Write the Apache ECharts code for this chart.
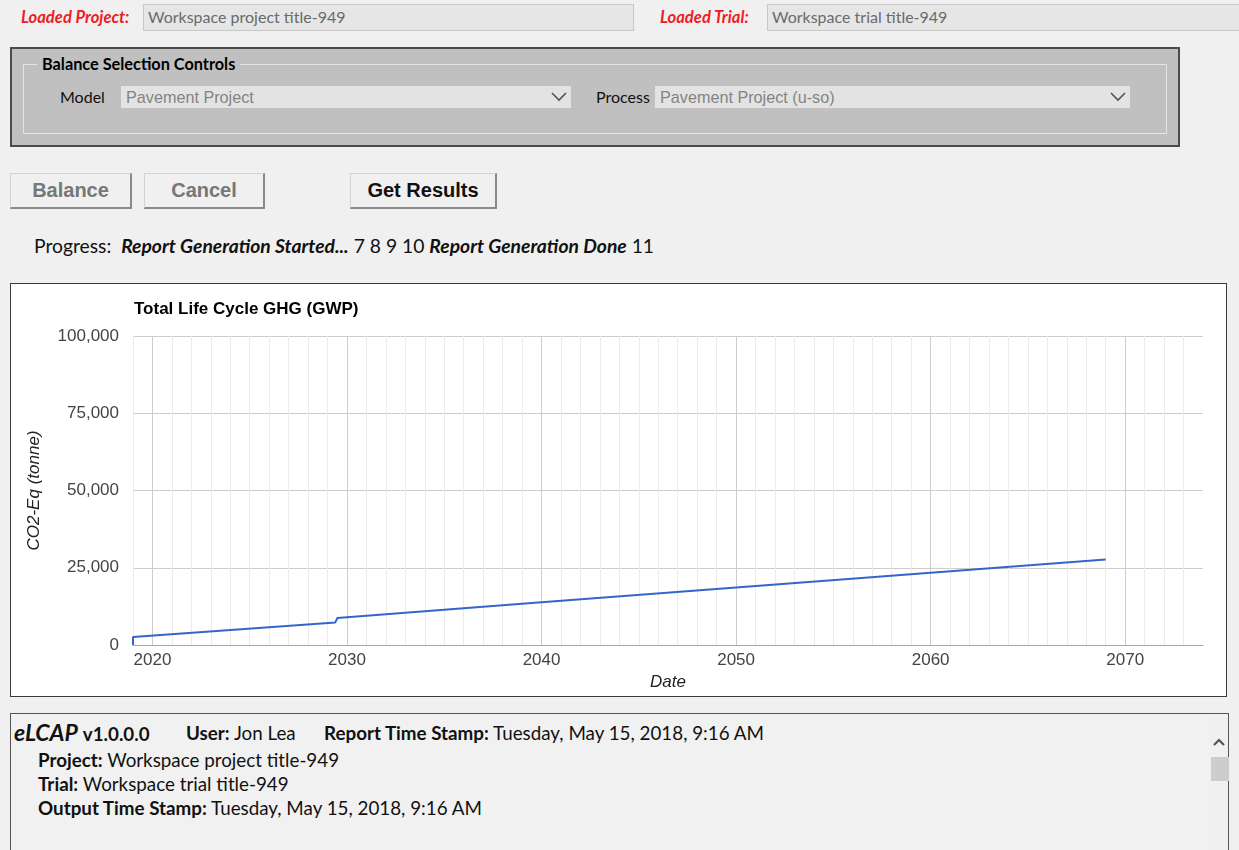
<!DOCTYPE html>
<html>
<head>
<meta charset="utf-8">
<script src="https://cdn.jsdelivr.net/npm/echarts@6/dist/echarts.min.js"></script>
<style>
html,body{margin:0;padding:0;width:1239px;height:850px;overflow:hidden;background:#f0f0f0;font-family:Lato,"Open Sans",sans-serif;color:#111;}
.a{position:absolute;white-space:nowrap;}
.red{color:#ee1c25;font-style:italic;font-weight:bold;font-size:16.6px;line-height:20px;}
.inp{background:#e6e6e6;border:1px solid #c8c8c8;color:#6a6a6a;font-size:16px;box-sizing:border-box;padding-left:4px;line-height:24px;}
.box{background:#c0c0c0;border:2px solid #4b4b4b;box-sizing:border-box;}
.fs{border:1px solid #e4e4e4;box-sizing:border-box;}
.legend{font-weight:bold;font-size:16.3px;background:#c0c0c0;padding:0 5px;line-height:18px;color:#000;}
.flbl{font-size:16px;line-height:18px;color:#111;}
.sel{background:#e3e3e3;box-sizing:border-box;font-family:"Liberation Sans",Arial,sans-serif;font-size:16.2px;color:#838383;line-height:22px;padding-left:5px;}
.sel svg{position:absolute;right:4px;top:6px;}
.btn{background:#f0f0f0;border:1px solid #d2d2d2;border-right:2px solid #8a8a8a;border-bottom:2px solid #8a8a8a;box-sizing:border-box;font-family:"Liberation Sans",Arial,sans-serif;font-weight:bold;font-size:20px;text-align:center;line-height:32px;}
.prog{font-size:19.3px;line-height:22px;color:#111;}
.prog b{font-style:italic;}
.chartbox{background:#fff;border:1px solid #3a3a3a;box-sizing:border-box;}
.report{background:#f1f1f1;border:1px solid #555;box-sizing:border-box;}
.rt{font-size:18.8px;line-height:22px;color:#111;}
</style>
</head>
<body>
<!-- header row -->
<div class="a red" style="left:21px;top:7px;">Loaded Project:</div>
<div class="a inp" style="left:143px;top:4px;width:491px;height:27px;">Workspace project title-949</div>
<div class="a red" style="left:660px;top:7px;">Loaded Trial:</div>
<div class="a inp" style="left:767px;top:4px;width:480px;height:27px;">Workspace trial title-949</div>

<!-- balance selection controls -->
<div class="a box" style="left:10px;top:47px;width:1170px;height:100px;"></div>
<div class="a fs" style="left:23px;top:64px;width:1144px;height:70px;"></div>
<div class="a legend" style="left:37px;top:55px;">Balance Selection Controls</div>
<div class="a flbl" style="left:60px;top:88px;">Model</div>
<div class="a sel" style="left:121px;top:86px;width:450px;height:22px;">Pavement Project
  <svg width="16" height="10" viewBox="0 0 16 10"><polyline points="1,1 8,8 15,1" fill="none" stroke="#555" stroke-width="1.6"/></svg></div>
<div class="a flbl" style="left:596px;top:88px;">Process</div>
<div class="a sel" style="left:655px;top:86px;width:475px;height:22px;">Pavement Project (u-so)
  <svg width="16" height="10" viewBox="0 0 16 10"><polyline points="1,1 8,8 15,1" fill="none" stroke="#555" stroke-width="1.6"/></svg></div>

<!-- buttons -->
<div class="a btn" style="left:10px;top:173px;width:122px;height:36px;color:#777;">Balance</div>
<div class="a btn" style="left:144px;top:173px;width:121px;height:36px;color:#777;">Cancel</div>
<div class="a btn" style="left:350px;top:173px;width:147px;height:36px;color:#111;">Get Results</div>

<!-- progress -->
<div class="a prog" style="left:34px;top:235px;">Progress:&nbsp; <b>Report Generation Started...</b> 7 8 9 10 <b>Report Generation Done</b> 11</div>

<!-- chart -->
<div class="a chartbox" style="left:10px;top:283px;width:1217px;height:414px;">
  <div id="chart" style="width:1215px;height:412px;"></div>
</div>

<!-- report -->
<div class="a report" style="left:10px;top:713px;width:1219px;height:150px;"></div>
<div class="a rt" style="left:14px;top:721px;"><b style="font-style:italic;font-size:23px;">eLCAP</b> <b>v1.0.0.0</b></div>
<div class="a rt" style="left:186px;top:722px;"><b>User:</b> Jon Lea</div>
<div class="a rt" style="left:324px;top:722px;"><b>Report Time Stamp:</b> Tuesday, May 15, 2018, 9:16 AM</div>
<div class="a rt" style="left:38px;top:749px;"><b>Project:</b> Workspace project title-949</div>
<div class="a rt" style="left:38px;top:773px;"><b>Trial:</b> Workspace trial title-949</div>
<div class="a rt" style="left:38px;top:797px;"><b>Output Time Stamp:</b> Tuesday, May 15, 2018, 9:16 AM</div>
<div class="a" style="left:1210px;top:714px;width:18px;height:140px;background:#f0f0f0;"></div>
<svg class="a" style="left:1212px;top:737px;" width="14" height="10" viewBox="0 0 14 10"><polyline points="2,8 7,3 12,8" fill="none" stroke="#555" stroke-width="2.2"/></svg>
<div class="a" style="left:1211px;top:757px;width:18px;height:24px;background:#cdcdcd;"></div>

<script>
// ---- data ----
const years     = [2019, 2019, 2029.4, 2029.5, 2040, 2050, 2060, 2069];
const co2Tonnes = [0, 2600, 7300, 8700, 13800, 18600, 23400, 27700];
const xLabelYears = [2020, 2030, 2040, 2050, 2060, 2070];
const yTickValues = [0, 25000, 50000, 75000, 100000];
const chartTitle = 'Total Life Cycle GHG (GWP)';
const xName = 'Date';
const yName = 'CO2-Eq (tonne)';

const FONT = '"Liberation Sans", Arial, sans-serif';
const minorC = '#ebebeb', majorC = '#cccccc';
// one colour per yearly grid line, cycling every 10 years (2019 first)
const vColors = [minorC, majorC, minorC, minorC, minorC, minorC, minorC, minorC, minorC, minorC];

const chart = echarts.init(document.getElementById('chart'), null, {renderer: 'canvas'});
chart.setOption({
  animation: false,
  title: {
    text: chartTitle, left: 123, top: 17, padding: 0,
    textStyle: {fontFamily: FONT, fontSize: 17, fontWeight: 'bold', color: '#000'}
  },
  grid: {left: 122, right: 23, top: 52, bottom: 51},
  xAxis: {
    type: 'value', min: 2019, max: 2074, interval: 1,
    name: xName, nameLocation: 'middle', nameGap: 28,
    nameTextStyle: {fontFamily: FONT, fontSize: 17, fontStyle: 'italic', color: '#222'},
    axisLine: {show: true, onZero: false, lineStyle: {color: '#a8a8a8', width: 1}},
    axisTick: {show: false},
    axisLabel: {
      margin: 7, fontFamily: FONT, fontSize: 17, color: '#444',
      showMinLabel: true, showMaxLabel: true,
      formatter: v => xLabelYears.indexOf(Math.round(v)) >= 0 && Math.abs(v - Math.round(v)) < 1e-6 ? String(Math.round(v)) : ''
    },
    splitLine: {show: true, showMaxLine: false, lineStyle: {color: vColors, width: 1}}
  },
  yAxis: {
    type: 'value', min: yTickValues[0], max: yTickValues[yTickValues.length - 1], interval: yTickValues[1] - yTickValues[0],
    name: yName, nameLocation: 'middle', nameGap: 90,
    nameTextStyle: {fontFamily: FONT, fontSize: 17, fontStyle: 'italic', color: '#222'},
    axisLine: {show: false}, axisTick: {show: false},
    axisLabel: {margin: 14, fontFamily: FONT, fontSize: 17, color: '#444', formatter: v => v.toLocaleString('en-US')},
    splitLine: {show: true, showMinLine: false, lineStyle: {color: '#cccccc', width: 1}}
  },
  series: [{
    type: 'line',
    data: years.map((y, i) => [y, co2Tonnes[i]]),
    symbol: 'none', showSymbol: false,
    lineStyle: {color: '#3366cc', width: 2},
    itemStyle: {color: '#3366cc'},
    z: 5
  }]
});
</script>
</body>
</html>
